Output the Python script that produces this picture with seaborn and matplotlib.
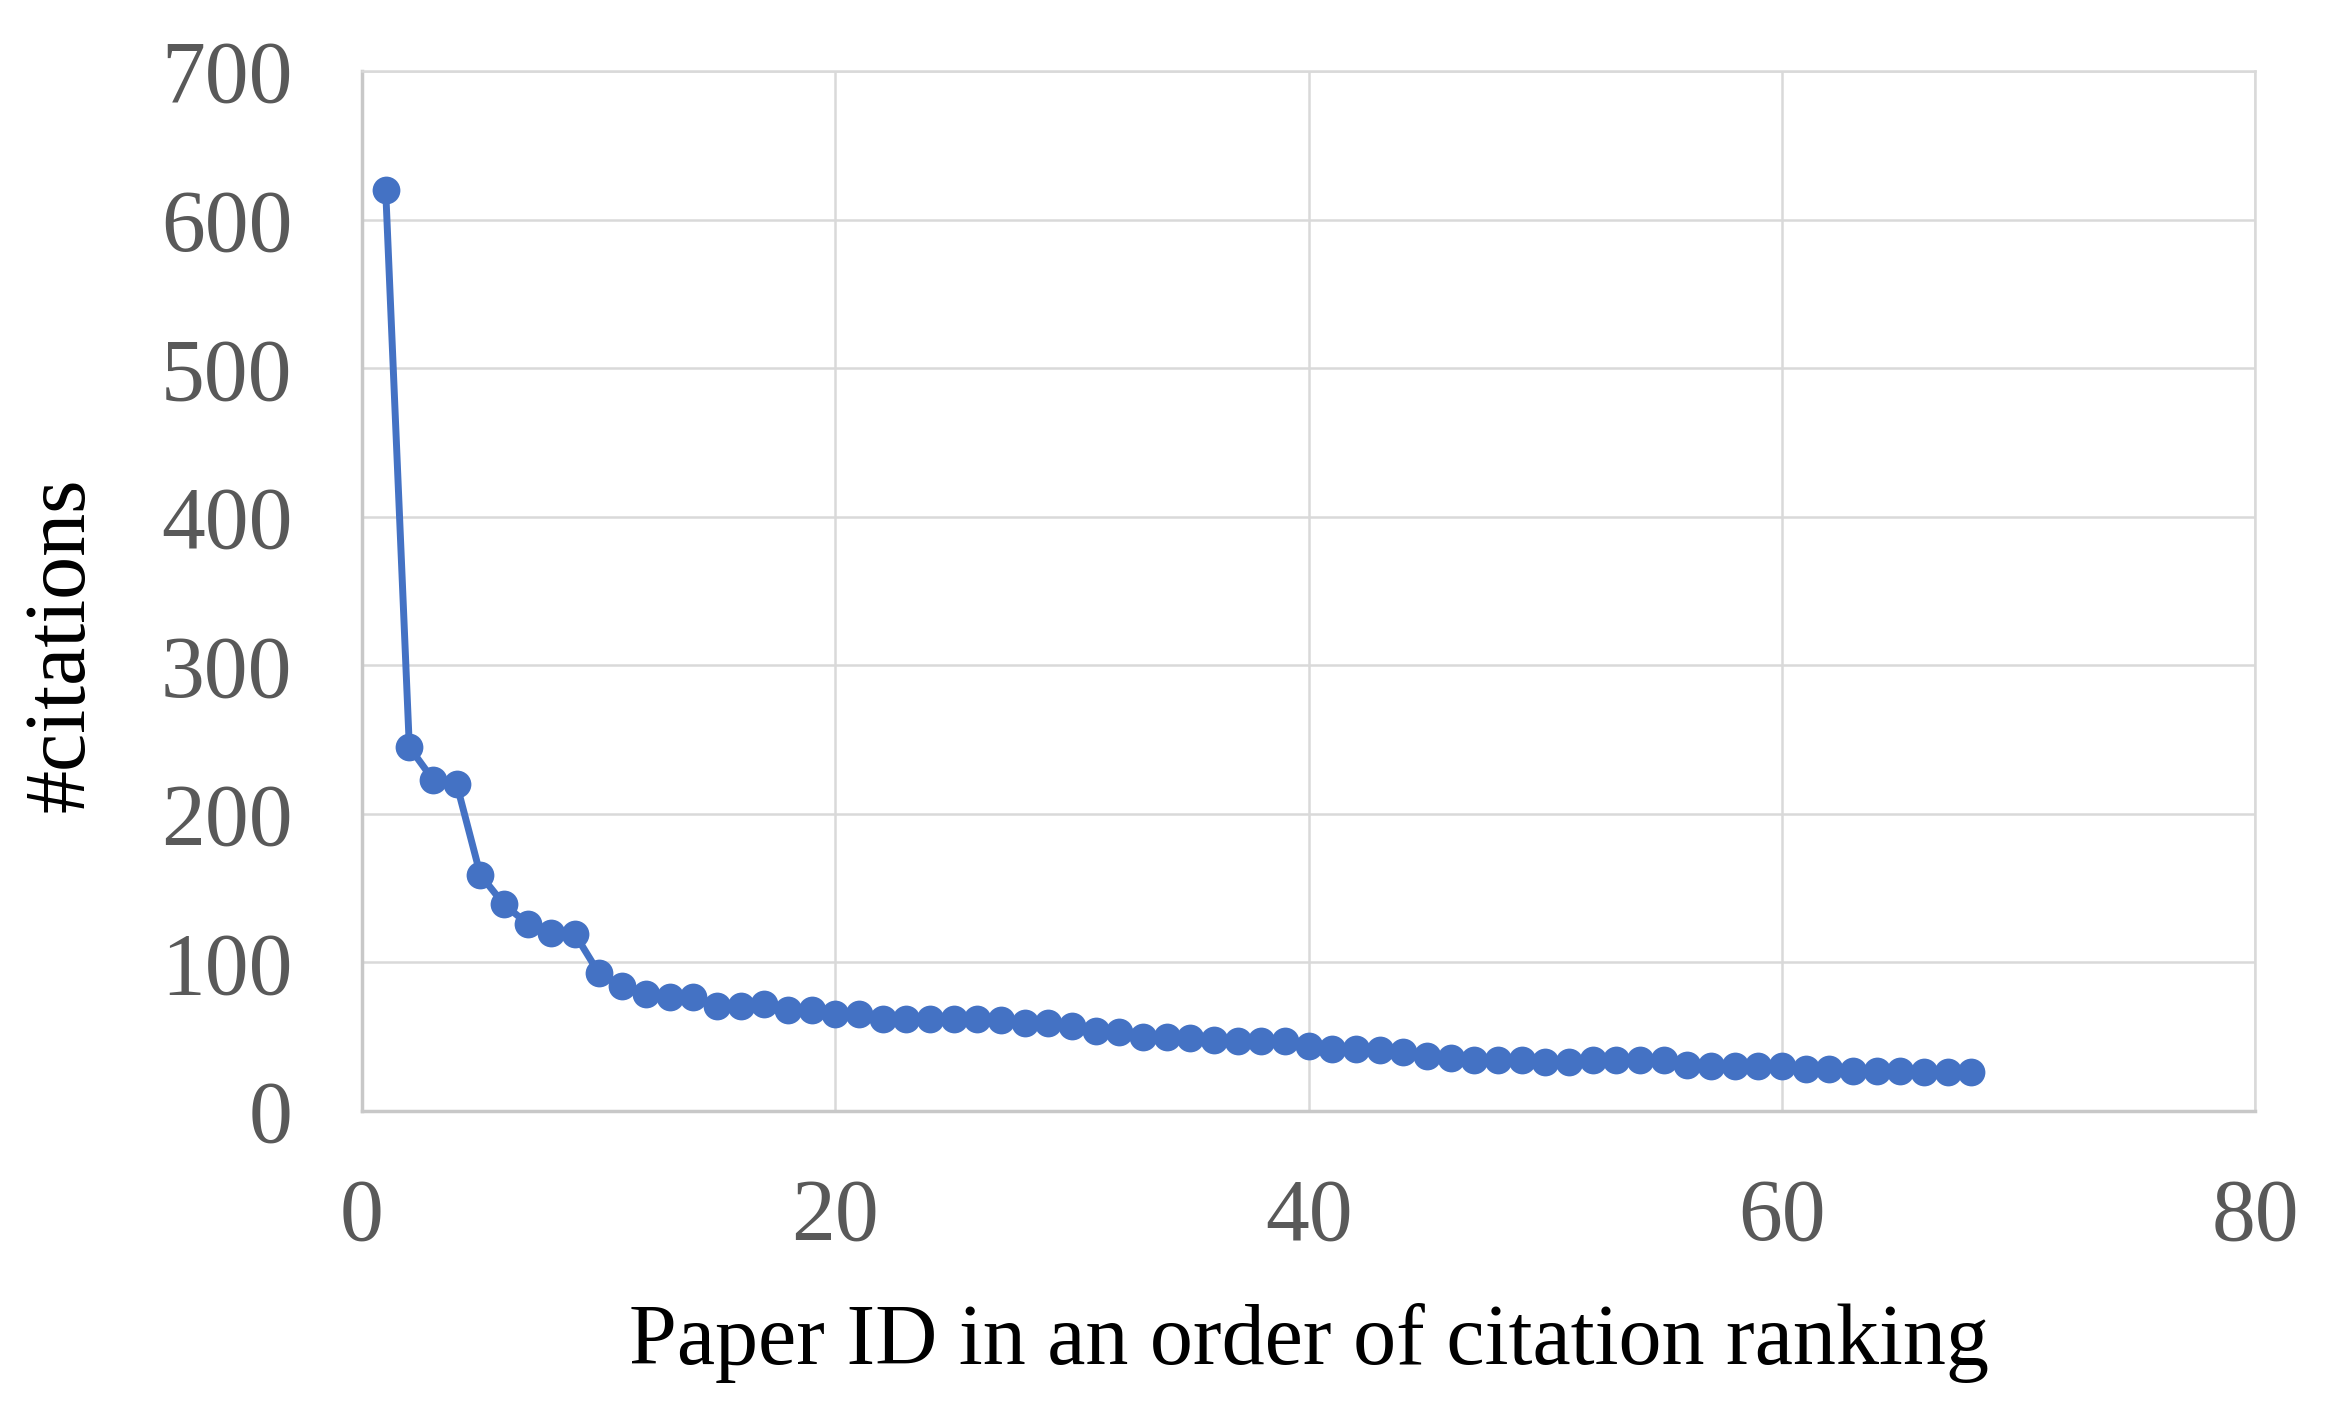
import numpy as np
import pandas as pd
import matplotlib
matplotlib.use("Agg")
import matplotlib.pyplot as plt
import seaborn as sns

# citation counts, papers sorted by rank
citations = [620, 245, 223, 220, 159, 139, 126, 120, 119, 93,
             84, 79, 77, 77, 71, 71, 72, 68, 68, 65,
             65, 62, 62, 62, 62, 62, 61, 59, 59, 57,
             54, 53, 50, 50, 49, 48, 47, 47, 47, 44,
             42, 42, 41, 40, 37, 36, 34, 34, 34, 33,
             33, 34, 34, 34, 34, 31, 30, 30, 30, 30,
             28, 28, 27, 27, 27, 26, 26, 26]
paper_id = list(range(1, len(citations) + 1))
x_ticks = [0, 20, 40, 60, 80]
y_ticks = [0, 100, 200, 300, 400, 500, 600, 700]

sns.set_theme(style="whitegrid")
plt.rcParams['font.family'] = ['Liberation Serif', 'DejaVu Serif']

df = pd.DataFrame({'paper': paper_id, 'citations': citations})

fig = plt.figure(figsize=(23.25, 14.04), dpi=100)
ax = fig.add_axes([0.1557, 0.2087, 0.970 - 0.1557, 0.9494 - 0.2087])

sns.lineplot(data=df, x='paper', y='citations', ax=ax, color='#4472C4',
             linewidth=5, marker='o', markersize=20, markeredgewidth=0)

ax.set_xlim(0, 80)
ax.set_ylim(0, 700)
ax.set_xticks(x_ticks)
ax.set_yticks(y_ticks)
ax.tick_params(axis='both', length=0, labelsize=63, labelcolor='#595959')
ax.tick_params(axis='x', pad=48)
ax.tick_params(axis='y', pad=50)
ax.grid(True, color='#d9d9d9', linewidth=1.8)
for s in ax.spines.values():
    s.set_color('#d9d9d9')
    s.set_linewidth(1.8)
ax.spines['bottom'].set_color('#c8c8c8')
ax.spines['bottom'].set_linewidth(2.5)
ax.spines['left'].set_color('#c8c8c8')
ax.spines['left'].set_linewidth(2.5)

ax.set_xlabel('Paper ID in an order of citation ranking', fontsize=62,
              color='black', labelpad=32)
ax.set_ylabel('#citations', fontsize=62, color='black')
ax.yaxis.set_label_coords(-0.137, 0.448)

fig.savefig('out.png', dpi=100, facecolor='white')
